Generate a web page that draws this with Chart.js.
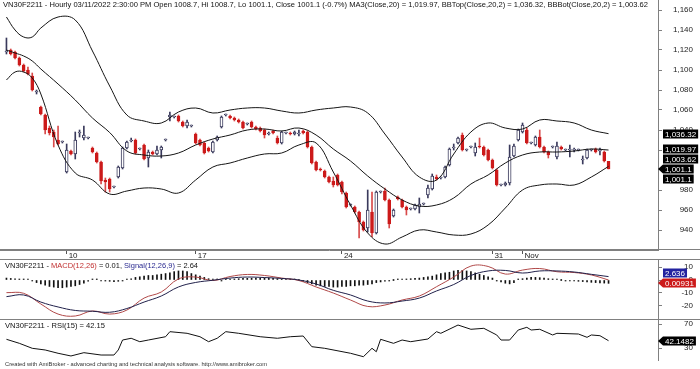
<!DOCTYPE html>
<html>
<head>
<meta charset="utf-8">
<title>VN30F2211 Hourly</title>
<script src="https://cdn.jsdelivr.net/npm/chart.js@4.4.1/dist/chart.umd.min.js"></script>
<style>
  html, body { margin: 0; padding: 0; background: #fff; }
  #wrap { position: relative; width: 700px; height: 369px; overflow: hidden; background: #fff; }
  #wrap canvas { position: absolute; left: 0; }
</style>
</head>
<body>
<div id="wrap">
  <canvas id="price" width="700" height="260" style="top:0"></canvas>
  <canvas id="macd" width="700" height="60" style="top:260px"></canvas>
  <canvas id="rsi" width="700" height="49" style="top:320px"></canvas>
</div>
<script>
"use strict";

// ---- hourly bars ----
const open = [1118,1120,1118,1112,1105,1100,1094,1078,1063,1055,
  1042,1038,1030,1028,998,1019,1016,1037,1032,1032,
  1022,1017,1008,990,991,983,993,1002,1022,1029,
  1030,1021,1025,1012,1018,1016,1020,1030,1053,1053,
  1054,1048,1044,1044,1036,1030,1027,1022,1018,1030,
  1043,1055,1054,1052,1050,1048,1046,1048,1043,1042,
  1040,1036,1039,1032,1027,1037,1037,1036,1036,1039,
  1038,1023,1008,1001,999,993,989,995,988,977,
  965,963,958,948,942,958,937,978,979,970,
  954,973,970,963,961,961,963,966,975,981,
  993,992,993,1005,1022,1027,1035,1020,1023,1017,
  1024,1023,1020,1010,1000,985,985,987,1014,1030,
  1038,1040,1027,1025,1033,1023,1018,1023,1013,1023,
  1020,1020,1020,1020,1010,1012,1020,1021,1019,1018,
  1008.7];
const high = [1132,1121,1119,1113,1106,1103,1097,1080,1064,1056,
  1044,1040,1044,1029,1026,1020,1038,1040,1044,1033,
  1023,1018,1009,992,992,984,1004,1023,1029,1032,
  1031,1022,1026,1020,1019,1024,1024,1031,1058,1054,
  1055,1049,1050,1045,1037,1031,1028,1023,1029,1034,
  1054,1056,1055,1053,1051,1049,1047,1049,1044,1043,
  1041,1038,1040,1034,1039,1038,1038,1039,1040,1040,
  1039,1024,1009,1002,1000,994,993,996,989,978,
  966,964,959,949,980,978,979,979,982,971,
  961,974,971,964,962,966,972,967,985,996,
  995,993,1004,1022,1026,1033,1037,1021,1024,1027,
  1032,1024,1021,1011,1001,986,988,1025,1026,1041,
  1047,1042,1028,1034,1040,1024,1019,1024,1028,1024,
  1021,1025,1022,1021,1014,1021,1021,1022,1022,1019,
  1008.7];
const low = [1116,1115,1111,1104,1098,1095,1079,1076,1055,1036,
  1035,1023,1025,1027,997,1015,1011,1033,1030,1031,
  1017,1007,986,978,978,982,992,1001,1021,1028,
  1016,1020,1010,1003,1015,1015,1012,1029,1049,1052,
  1048,1043,1042,1043,1026,1024,1016,1018,1017,1029,
  1042,1054,1051,1049,1047,1041,1045,1042,1040,1038,
  1032,1035,1036,1026,1026,1036,1035,1035,1034,1036,
  1022,1006,999,999,992,987,983,984,976,962,
  964,957,932,939,938,933,936,977,969,942,
  953,970,962,955,960,960,957,965,972,980,
  990,991,992,1004,1020,1026,1019,1019,1022,1014,
  1022,1014,1009,1001,984,984,984,985,1013,1029,
  1037,1026,1026,1024,1022,1017,1012,1022,1011,1020,
  1019,1013,1018,1019,1006,1011,1019,1017,1015,1008,
  1001.1];
const close = [1119,1116,1112,1105,1099,1096,1080,1078,1056,1040,
  1037,1033,1026,1028,1020,1016,1030,1037,1035,1032,
  1018,1008,989,988,981,983,1003,1022,1028,1030,
  1017,1021,1011,1018,1016,1020,1023,1030,1055,1053,
  1049,1044,1048,1044,1027,1025,1017,1019,1028,1033,
  1053,1055,1052,1050,1048,1042,1046,1043,1041,1039,
  1035,1036,1037,1027,1038,1037,1036,1038,1037,1037,
  1023,1007,1000,1000,993,988,985,985,978,963,
  965,958,948,940,960,937,978,978,970,946,
  960,971,963,960,961,965,966,966,982,994,
  991,992,1003,1021,1023,1032,1020,1020,1023,1023,
  1023,1015,1010,1002,985,985,987,1013,1024,1040,
  1045,1027,1027,1033,1023,1018,1015,1023,1024,1021,
  1020,1021,1020,1020,1011,1020,1020,1018,1019,1009,
  1001.1];

// date ticks on the time axis (bar index -> label)
const dateTickIdx = [14, 44, 78, 113, 120];
const dateTickText = ['10', '17', '24', '31', 'Nov'];

// Bollinger bands / MA, read at these bar indices
const bandIdx = [0,2,4,6,8,12,16,20,24,28,32,36,40,44,48,52,56,60,64,68,72,76,80,84,88,92,96,100,104,108,112,116,120,124,128,132,136,140];
const bbTop = [1153,1140,1133,1133,1142,1153,1150,1119,1084,1055,1049,1047,1058,1062,1057,1060,1062,1062,1059,1057,1060,1062,1063,1057,1036,1013,993,990,1016,1038,1047,1042,1041,1050,1049,1047,1040,1036.32];
const ma20 = [1120,1117,1114,1109,1101,1086,1070,1052,1037.5,1019,1015,1014,1017,1025,1031,1035,1040,1041,1039,1042,1035,1021,1009,994,981,970,964,965,972,986,995,1007,1015,1018,1018,1019,1021,1019.97];
const bbBot = [1090,1098,1098,1092,1076,1025,997,990,976,979,982,981,977,990,1003,1007,1012,1016,1017,1025,1027,998,965,937,926,933,940,938,935,936,945,962,980,985,986,985,993,1003.62];

// MACD panel
const macdIdx = [0,4,8,12,16,20,24,28,32,36,40,44,48,52,56,60,64,68,72,76,80,84,88,92,96,100,104,108,112,116,120,124,128,132,136,140];
const macdLine = [-9.8,-10.3,-18.6,-26.4,-27.9,-24,-26.4,-23.3,-14,-9.3,0.8,2.3,-0.4,2.7,4.3,3.5,1.5,-0.4,-5.4,-10.1,-15.5,-20.5,-19.4,-15.5,-12.4,-5.2,2.3,10.8,10.5,4.6,7.7,8.9,6.4,5.8,3.9,0.01];
const signalLine = [-12.9,-11.6,-17.1,-20.9,-23.6,-24.2,-25,-22.1,-17.1,-12.4,-5.4,-1.9,-0.2,1.5,2.3,1.9,1.2,0,-3.1,-8,-11.6,-16.3,-17.8,-16.3,-14,-8.5,-3.5,3.5,7,7.4,5.4,7,7,6.2,4.4,2.64];
const macdHist = [1.5,1.2,1,0.6,0.3,0.2,-0.4,
  -2,-3,-4,-5,-5.5,-6,-6,-5.5,-5,-4.5,-3.5,-2.5,
  -1,0.3,0.2,
  -0.5,-0.8,-1,-1.2,-1,-0.6,
  0.5,1,2,2.5,3,3.5,3.5,4,4.5,5,5.5,6.5,7,7,6.5,5,
  4,3,2,1,
  0.5,0.3,-0.2,0.3,0.6,0.8,1,1.2,1.3,1.4,1.5,1.5,1.6,1.5,1.3,1,0.8,0.6,0.4,0.2,0,
  -1,-2,-3,-4,-4.5,-5,-5,-5.5,-5.5,-5,-5,-4.5,-4.5,-4,-4,-3.5,-3,-2,
  -1.5,-1,-0.5,0,0.3,0.5,0.8,1,1.2,1.5,2,2.5,
  3,4,5,5.5,6,7,7.5,7.5,7,6.5,
  5.5,4.5,3.5,2.5,1.5,
  -0.5,-1.5,-2.5,-3,-2,
  0.5,1,1.5,2,2,1.8,1.5,1,0.5,0.2,0,-0.3,-0.5,-0.8,-1,-1.2,-1.5,-1.8,-2,-2.2,-2.4,-2.6];

// RSI(15) panel
const rsiIdx = [0,3,6,9,12,15,18,22,25,26,27,29,31,33,37,38,42,45,47,49,51,54,59,63,66,69,71,74,80,83,85,86,87,90,92,94,98,100,101,105,108,111,114,115,117,119,121,122,124,127,128,133,135,136,138,140];
const rsiVal = [44.5,37.8,29.5,26.7,21.2,16.7,22.2,18.3,18.3,26.7,43.3,46.2,40.5,43.3,48.8,57.2,54.5,48.8,40.5,46.2,57.2,54.5,48.8,46.2,48.8,50,32.2,29.5,21.2,15.5,29.5,23.8,44.5,37.8,43.3,40.5,45,57.2,54.5,68.3,61.2,62.8,51.7,43.3,43.3,60,64.5,60,61.2,51.7,54.5,53.3,47.8,51.7,50.5,42.15];

const priceTicks = [1160,1140,1120,1100,1080,1060,1040,1020,1000,980,960,940];
const macdTicks = [10, 0, -10, -20];
const rsiTicks = [70, 30];

// ---- layout helpers ----
const LEAD = 1, TAIL = 11;
const SLOTS = LEAD + close.length + TAIL;
const FONT = '"Liberation Sans", Arial, sans-serif';
const AXIS = '#808080';
const RED = '#cc1a1a';
const UP = '#3a3a5c';

const slotLabels = Array.from({length: SLOTS}, (_, s) => {
  const k = dateTickIdx.indexOf(s - LEAD);
  return k >= 0 ? dateTickText[k] : '';
});
const perBar = arr => Array.from({length: SLOTS}, (_, s) => {
  const i = s - LEAD;
  return i >= 0 && i < arr.length ? arr[i] : null;
});
const sparse = (idx, vals) => {
  const a = new Array(SLOTS).fill(null);
  idx.forEach((i, k) => { a[i + LEAD] = vals[k]; });
  return a;
};
const isUp = s => { const i = s - LEAD; return close[i] >= open[i]; };
const fmtThousands = v => String(v).replace(/\B(?=(\d{3})+(?!\d))/g, ',');

function drawRuns(ctx, x, y, runs, width, size) {
  ctx.save();
  ctx.font = size + 'px ' + FONT;
  ctx.textBaseline = 'middle';
  ctx.textAlign = 'left';
  const total = runs.reduce((w, r) => w + ctx.measureText(r[0]).width, 0);
  ctx.translate(x, y);
  ctx.scale(width / total, 1);
  let cx = 0;
  runs.forEach(r => { ctx.fillStyle = r[1]; ctx.fillText(r[0], cx, 0); cx += ctx.measureText(r[0]).width; });
  ctx.restore();
}

// right-aligned value labels of the right axis
function drawAxisLabels(chart, values, fmt) {
  const ctx = chart.ctx, sc = chart.scales.y;
  ctx.save();
  ctx.font = '8px ' + FONT;
  ctx.fillStyle = '#222';
  ctx.textAlign = 'right';
  ctx.textBaseline = 'middle';
  values.forEach(v => ctx.fillText(fmt(v), 693, sc.getPixelForValue(v)));
  ctx.restore();
}

function drawTags(chart, tags) {
  const ctx = chart.ctx, sc = chart.scales.y;
  const items = tags.map(t => ({t, y: sc.getPixelForValue(t.v)}));
  for (let n = 0; n < 40; n++) {
    for (let k = 1; k < items.length; k++) {
      const d = items[k].y - items[k - 1].y;
      if (d < 10) { items[k].y += (10 - d) / 2; items[k - 1].y -= (10 - d) / 2; }
    }
  }
  ctx.save();
  ctx.font = '8px ' + FONT;
  ctx.textBaseline = 'middle';
  ctx.textAlign = 'left';
  const x0 = sc.left + 5;
  items.forEach(({t, y}) => {
    const w = ctx.measureText(t.text).width + 4;
    ctx.fillStyle = t.bg;
    ctx.fillRect(x0, Math.round(y) - 4.5, w, 9);
    if (t.arrow) {
      ctx.beginPath();
      ctx.moveTo(sc.left, Math.round(y));
      ctx.lineTo(x0, Math.round(y) - 4.5);
      ctx.lineTo(x0, Math.round(y) + 4.5);
      ctx.closePath();
      ctx.fill();
    }
    ctx.fillStyle = '#fff';
    ctx.fillText(t.text, x0 + 2, Math.round(y) + 0.5);
  });
  ctx.restore();
}

function hline(ctx, y, x1, x2) {
  ctx.save();
  ctx.strokeStyle = AXIS;
  ctx.lineWidth = 1;
  ctx.beginPath(); ctx.moveTo(x1, y); ctx.lineTo(x2, y); ctx.stroke();
  ctx.restore();
}

function rightAxis(min, max, ticks) {
  return {
    position: 'right', min, max,
    afterBuildTicks: s => { s.ticks = ticks.map(v => ({value: v})); },
    afterFit: s => { s.width = 42; s.paddingTop = 0; s.paddingBottom = 0; },
    grid: { drawOnChartArea: false, drawTicks: true, tickLength: 4, color: AXIS },
    border: { display: true, color: AXIS },
    ticks: { display: false }
  };
}

function hiddenX() {
  return { type: 'category', offset: true, display: false, grid: { offset: false } };
}

const common = {
  responsive: false,
  animation: false,
  events: [],
  layout: { padding: 0 },
  plugins: { legend: { display: false }, tooltip: { enabled: false } }
};

// ---- price panel ----
new Chart(document.getElementById('price'), {
  type: 'bar',
  data: {
    labels: slotLabels,
    datasets: [
      { type: 'line', data: sparse(bandIdx, bbTop), borderColor: '#151515', borderWidth: 1, pointRadius: 0, spanGaps: true, tension: 0.4, order: -1 },
      { type: 'line', data: sparse(bandIdx, ma20), borderColor: '#151515', borderWidth: 1, pointRadius: 0, spanGaps: true, tension: 0.4, order: -1 },
      { type: 'line', data: sparse(bandIdx, bbBot), borderColor: '#151515', borderWidth: 1, pointRadius: 0, spanGaps: true, tension: 0.4, order: -1 },
      { data: perBar(open.map((o, i) => [o, close[i]])), grouped: false, barThickness: 3, minBarLength: 1,
        borderWidth: 1, borderSkipped: false,
        backgroundColor: c => isUp(c.dataIndex) ? '#ffffff' : RED,
        borderColor: c => isUp(c.dataIndex) ? UP : RED, order: 0 },
      { data: perBar(low.map((l, i) => [l, high[i]])), grouped: false, barThickness: 1,
        backgroundColor: c => isUp(c.dataIndex) ? UP : '#d84a4a', order: 1 }
    ]
  },
  options: Object.assign({}, common, {
    scales: {
      x: {
        type: 'category', offset: true,
        afterFit: s => { s.height = 10; s.paddingLeft = 0; s.paddingRight = 0; },
        grid: { offset: false, drawOnChartArea: false, drawTicks: true, tickLength: 4,
                color: c => slotLabels[c.index] ? '#555' : 'rgba(0,0,0,0)' },
        border: { display: true, color: AXIS },
        ticks: { autoSkip: false, maxRotation: 0, align: 'start', labelOffset: 2, padding: -3,
                 color: '#222', font: { family: FONT, size: 8 }, callback: (v, i) => slotLabels[i] }
      },
      y: rightAxis(920, 1170, priceTicks)
    }
  }),
  plugins: [{
    id: 'priceDeco',
    afterDraw(chart) {
      const ctx = chart.ctx;
      drawRuns(ctx, 3, 5, [['VN30F2211 - Hourly 03/11/2022 2:30:00 PM Open 1008.7, Hi 1008.7, Lo 1001.1, Close 1001.1 (-0.7%) MA3(Close,20) = 1,019.97, BBTop(Close,20,2) = 1,036.32, BBBot(Close,20,2) = 1,003.62', '#111']], 645, 8);
      hline(ctx, 249.5, 0, 700);
      hline(ctx, 259.5, 0, 700);
      drawAxisLabels(chart, priceTicks, fmtThousands);
      drawTags(chart, [
        { v: 1036.32, text: '1,036.32', bg: '#000' },
        { v: 1019.97, text: '1,019.97', bg: '#000' },
        { v: 1003.62, text: '1,003.62', bg: '#000' },
        { v: 1001.1, text: '1,001.1', bg: '#000', arrow: true },
        { v: 1001.1, text: '1,001.1', bg: '#000' }
      ]);
    }
  }]
});

// ---- MACD panel ----
new Chart(document.getElementById('macd'), {
  type: 'bar',
  data: {
    labels: slotLabels,
    datasets: [
      { type: 'line', data: sparse(macdIdx, signalLine), borderColor: '#20204a', borderWidth: 1, pointRadius: 0, spanGaps: true, tension: 0.4 },
      { type: 'line', data: sparse(macdIdx, macdLine), borderColor: '#b04848', borderWidth: 1, pointRadius: 0, spanGaps: true, tension: 0.4 },
      { data: perBar(macdHist), barThickness: 1, backgroundColor: '#111', minBarLength: 1 }
    ]
  },
  options: Object.assign({}, common, {
    scales: { x: hiddenX(), y: rightAxis(-31, 15.5, macdTicks) }
  }),
  plugins: [{
    id: 'macdDeco',
    afterDraw(chart) {
      const ctx = chart.ctx;
      drawRuns(ctx, 5, 5.5, [['VN30F2211 - ', '#111'], ['MACD(12,26)', '#c03030'], [' = 0.01, ', '#111'], ['Signal(12,26,9)', '#2a2a90'], [' = 2.64', '#111']], 193, 8);
      hline(ctx, 59.5, 0, 700);
      drawAxisLabels(chart, macdTicks, v => String(v));
      drawTags(chart, [
        { v: 2.64, text: '2.636', bg: '#2323a0' },
        { v: 0.01, text: '0.00931', bg: RED, arrow: true }
      ]);
    }
  }]
});

// ---- RSI panel ----
new Chart(document.getElementById('rsi'), {
  type: 'line',
  data: {
    labels: slotLabels,
    datasets: [
      { data: sparse(rsiIdx, rsiVal), borderColor: '#111', borderWidth: 1, pointRadius: 0, spanGaps: true, tension: 0 }
    ]
  },
  options: Object.assign({}, common, {
    layout: { padding: { bottom: 9 } },
    scales: { x: hiddenX(), y: rightAxis(10, 76.67, rsiTicks) }
  }),
  plugins: [{
    id: 'rsiDeco',
    afterDraw(chart) {
      const ctx = chart.ctx;
      drawRuns(ctx, 5, 5.5, [['VN30F2211 - RSI(15) = 42.15', '#111']], 100, 8);
      drawAxisLabels(chart, rsiTicks, v => String(v));
      drawTags(chart, [{ v: 42.15, text: '42.1482', bg: '#000', arrow: true }]);
      drawRuns(ctx, 5, 44, [['Created with AmiBroker - advanced charting and technical analysis software. http://www.amibroker.com', '#333']], 262, 6);
    }
  }]
});
</script>
</body>
</html>
